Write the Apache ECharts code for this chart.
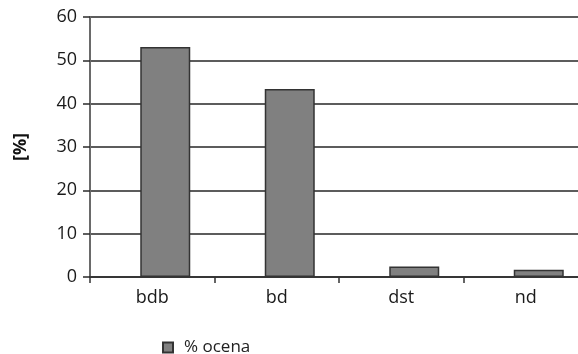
<!DOCTYPE html>
<html>
<head>
<meta charset="utf-8">
<script src="https://cdn.jsdelivr.net/npm/echarts@6/dist/echarts.min.js"></script>
<style>
  html, body { margin: 0; padding: 0; background: #fff; }
  #chart { width: 578px; height: 354px; }
</style>
</head>
<body>
<div id="chart"></div>
<script>
// Rating shares per category
const categories = ['bdb', 'bd', 'dst', 'nd'];
const shareValues = [53.1, 43.4, 2.4, 1.7];
const yTicks = [0, 10, 20, 30, 40, 50, 60];
const seriesName = '% ocena';
const yAxisTitle = '[%]';

const font = 'Open Sans';
const chart = echarts.init(document.getElementById('chart'), null, { renderer: 'canvas' });

chart.setOption({
  animation: false,
  backgroundColor: '#ffffff',
  textStyle: { fontFamily: font },
  // plot runs slightly past the right edge of the canvas
  grid: {
    left: 90, top: 17, width: 498, height: 260,
    containLabel: false,
    outerBoundsMode: 'none'
  },
  legend: {
    data: [seriesName],
    left: 157,
    top: 334,
    icon: 'rect',
    itemWidth: 10,
    itemHeight: 10,
    itemGap: 8,
    textStyle: { fontFamily: font, fontSize: 17, color: '#222', padding: [0, 0, 0, 6] }
  },
  xAxis: {
    type: 'category',
    data: categories,
    axisLine: { show: true, lineStyle: { color: '#2a2a2a', width: 1.5 } },
    axisTick: { show: true, length: 6, inside: false, lineStyle: { color: '#333', width: 1.5 } },
    axisLabel: { fontFamily: font, fontSize: 18, color: '#1a1a1a', margin: 12 },
    splitLine: { show: false }
  },
  yAxis: {
    type: 'value',
    min: yTicks[0],
    max: yTicks[yTicks.length - 1],
    interval: yTicks[1] - yTicks[0],
    name: yAxisTitle,
    nameLocation: 'middle',
    nameGap: 60,
    nameRotate: 90,
    nameTextStyle: { fontFamily: font, fontSize: 18, fontWeight: 'bold', color: '#111' },
    axisLine: { show: true, lineStyle: { color: '#6a6a6a', width: 2 } },
    axisTick: { show: true, length: 7, lineStyle: { color: '#2a2a2a', width: 1.5 } },
    axisLabel: { fontFamily: font, fontSize: 18, color: '#1a1a1a', margin: 13 },
    splitLine: { show: true, lineStyle: { color: '#262626', width: 1.6 } }
  },
  series: [
    {
      // empty leading slot that shifts the bars right within each band
      name: 'slot',
      type: 'bar',
      data: categories.map(() => null),
      barWidth: 26,
      barGap: '0%',
      silent: true
    },
    {
      name: seriesName,
      type: 'bar',
      data: shareValues,
      barWidth: 50,
      barGap: '0%',
      itemStyle: { color: '#808080', borderColor: '#333', borderWidth: 1.5 }
    }
  ]
});
</script>
</body>
</html>
